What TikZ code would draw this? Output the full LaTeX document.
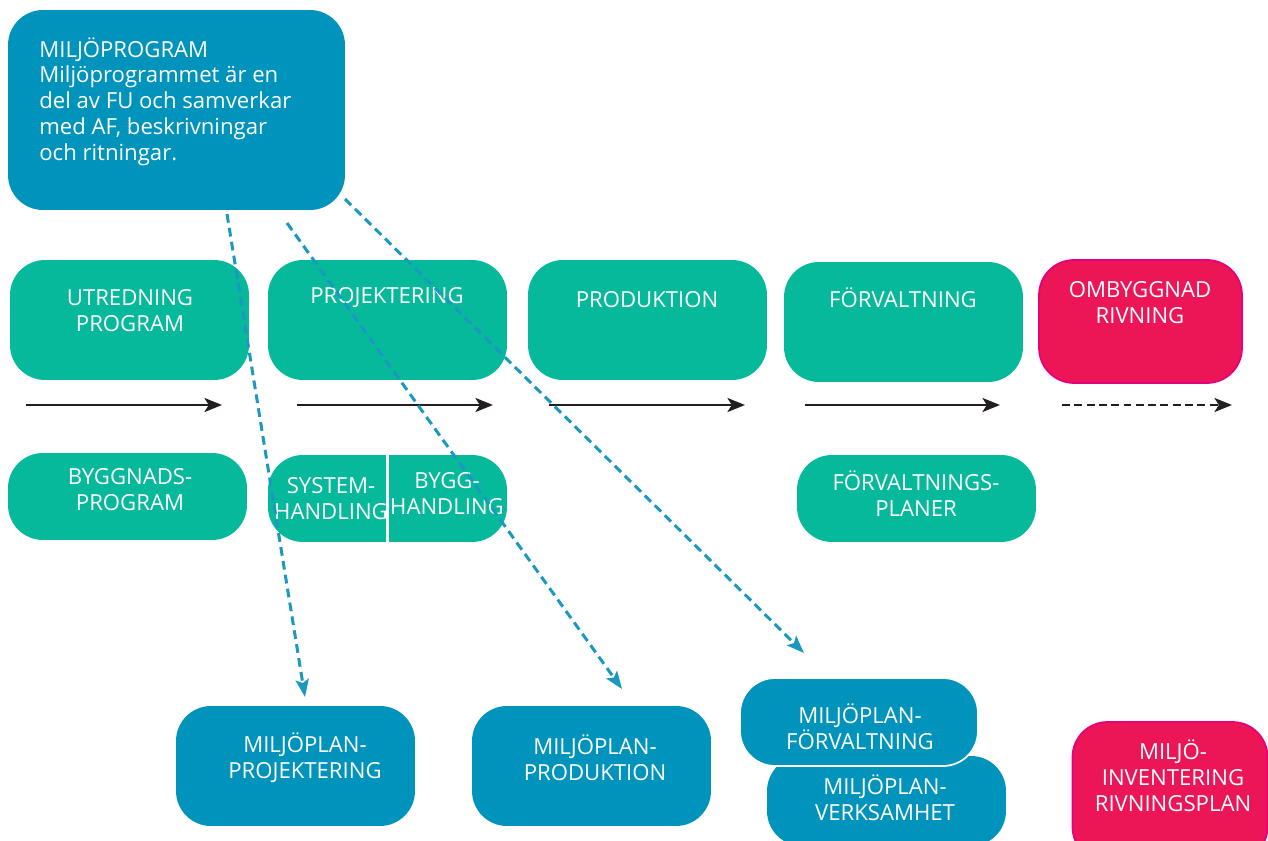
\documentclass[tikz,border=0pt]{standalone}
\usepackage{fontspec}
\setmainfont{Open Sans}
\usepackage{xcolor}
\usepackage{tikz}
\usetikzlibrary{arrows.meta}
\definecolor{green}{HTML}{06B99B}
\definecolor{blue}{HTML}{0094BC}
\definecolor{pink}{HTML}{EC1556}
\definecolor{rim}{HTML}{E5007E}
\definecolor{link}{HTML}{1A98C2}
\definecolor{ink}{HTML}{231F20}
\tikzset{
  box/.style={rounded corners=0.7cm, inner sep=0pt},
  big/.style={box, minimum width=4.78cm, minimum height=2.4cm},
  low/.style={box, minimum width=4.78cm, minimum height=1.74cm},
  txt/.style={text=white, align=center, inner sep=0pt, font=\fontsize{12.6}{14.7}\selectfont},
  flow/.style={draw=ink, line width=1.3pt, -{Stealth[length=10pt,width=8pt,inset=2.5pt]}},
  link/.style={draw=link, line width=1.7pt, dash pattern=on 5pt off 3pt,
    -{Stealth[length=10pt,width=7.5pt,inset=2pt]}}
}

\begin{document}
\begin{tikzpicture}[x=0.02cm, y=-0.02cm]
  \useasboundingbox (0,0) rectangle (1268,841);

  % miljoprogram
  \node[box, fill=blue, minimum width=6.74cm, minimum height=4cm] (prog) at (176.5,110) {};
  \node[txt, align=left, anchor=north west] (progt) at (39,37)
    {MILJÖPROGRAM\\Miljöprogrammet är en\\del av FU och samverkar\\med AF, beskrivningar\\och ritningar.};

  % skeden
  \node[big, fill=green] (utr) at (129.5,320) {};
  \node[big, fill=green] (proj) at (387.5,320) {};
  \node[big, fill=green] (prod) at (647.5,320) {};
  \node[big, fill=green] (forv) at (903.5,322) {};
  \node[big, fill=pink, draw=rim, line width=1pt, minimum width=4.06cm, minimum height=2.46cm] (omb) at (1140.5,321.5) {};
  \node[txt] (utrt) at (130,311) {UTREDNING\\PROGRAM};
  \node[txt] (projt) at (387,298) {PROJEKTERING};
  \node[txt] (prodt) at (647,300) {PRODUKTION};
  \node[txt] (forvt) at (903,298) {FÖRVALTNING};
  \node[txt] (ombt) at (1140,302.5) {OMBYGGNAD\\RIVNING};

  % tidslinje
  \coordinate (f1) at (26,405);   \coordinate (g1) at (222,405);
  \coordinate (f2) at (297,405);  \coordinate (g2) at (493,405);
  \coordinate (f3) at (549,405);  \coordinate (g3) at (745,405);
  \coordinate (f4) at (805,405);  \coordinate (g4) at (1000,405);
  \coordinate (f5) at (1062,405); \coordinate (g5) at (1232,405);
  \draw[flow] (f1) -- (g1);
  \draw[flow] (f2) -- (g2);
  \draw[flow] (f3) -- (g3);
  \draw[flow] (f4) -- (g4);
  \draw[flow, dash pattern=on 4.5pt off 2.5pt] (f5) -- (g5);

  % handlingar
  \node[low, fill=green] (bygg) at (127.5,496.5) {};
  \node[low, fill=green] (sh) at (387.5,498.5) {};
  \draw[white, line width=1.2pt] (sh.north) -- (sh.south);
  \node[low, fill=green] (fplan) at (916.5,498.5) {};
  \node[txt] (byggt) at (130,489.5) {BYGGNADS-\\PROGRAM};
  \node[txt] (syst) at (331,498.5) {SYSTEM-\\HANDLING};
  \node[txt] (bhandt) at (447,493.5) {BYGG-\\HANDLING};
  \node[txt] (fplant) at (916,494) {FÖRVALTNINGS-\\PLANER};

  % miljoplaner
  \node[big, fill=blue] (mproj) at (295.5,766) {};
  \node[big, fill=blue] (mprod) at (591.5,766) {};
  \node[box, fill=blue, minimum width=4.78cm, minimum height=1.8cm] (mverk) at (886.5,801) {};
  \node[box, fill=blue, draw=white, line width=1pt, minimum width=4.76cm, minimum height=1.76cm] (mforv) at (859,722) {};
  \node[box, fill=pink, draw=rim, line width=1pt, minimum width=3.9cm, minimum height=2.8cm] (minv) at (1170,792) {};
  \node[txt] (mprojt) at (305,758) {MILJÖPLAN-\\PROJEKTERING};
  \node[txt] (mprodt) at (595,758) {MILJÖPLAN-\\PRODUKTION};
  \node[txt] (mforvt) at (860,727) {MILJÖPLAN-\\FÖRVALTNING};
  \node[txt] (mverkt) at (885,798) {MILJÖPLAN-\\VERKSAMHET};
  \node[txt] (minvt) at (1173,776) {MILJÖ-\\INVENTERING\\RIVNINGSPLAN};

  % kopplingar
  \coordinate (p1) at (227,214);
  \coordinate (p2) at (287,223);
  \coordinate (p3) at (345,199);
  \coordinate (q1) at (305,697);
  \coordinate (q2) at (622,689);
  \coordinate (q3) at (804,653);
  \draw[link] (p1) -- (q1);
  \draw[link] (p2) -- (q2);
  \draw[link] (p3) -- (q3);
\end{tikzpicture}
\end{document}
